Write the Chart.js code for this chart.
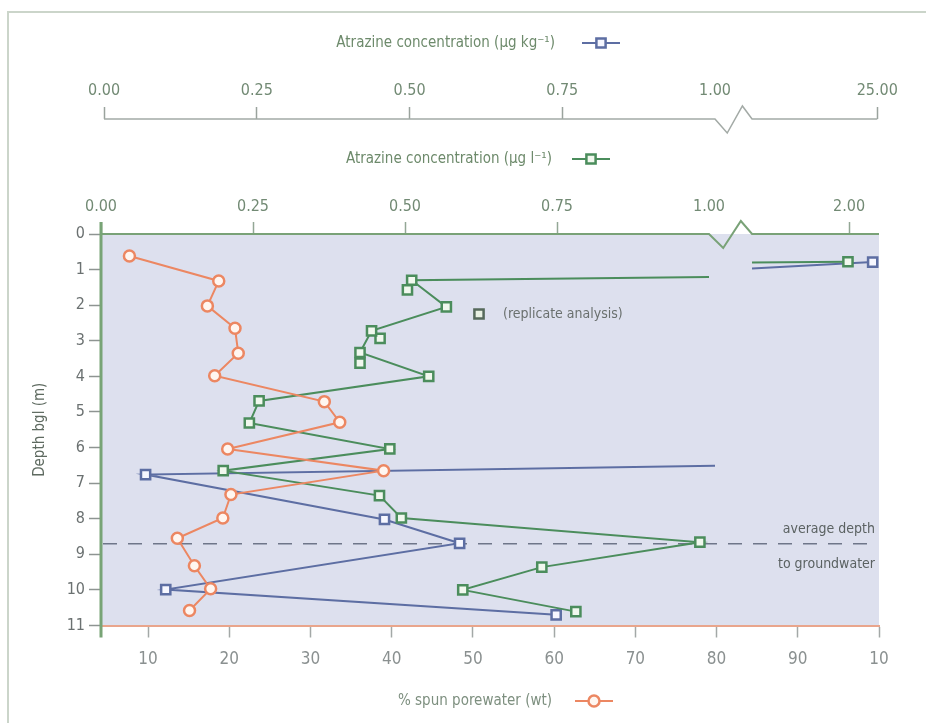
<!DOCTYPE html>
<html>
<head>
<meta charset="utf-8">
<style>
  html, body { margin: 0; padding: 0; background: #ffffff; }
  #wrap { width: 926px; height: 723px; }
</style>
<script src="https://cdn.jsdelivr.net/npm/chart.js@4.4.1/dist/chart.umd.min.js"></script>
</head>
<body>
<div id="wrap"><canvas id="c" width="926" height="723"></canvas></div>
<script>
// ---- borehole profile: depth below ground level (m) ----

// % spun porewater (wt)
const poreDepth = [0.62, 1.32, 2.02, 2.65, 3.35, 3.98, 4.71, 5.29, 6.04, 6.65, 7.32, 7.98, 8.55, 9.32, 9.97, 10.58];
const porePct   = [7.7, 18.7, 17.3, 20.7, 21.1, 18.2, 31.7, 33.6, 19.8, 39.0, 20.2, 19.2, 13.6, 15.7, 17.7, 15.1];

// atrazine in porewater (µg l-1)
const waterDepth = [0.78, 1.30, 2.05, 2.72, 3.33, 4.00, 4.69, 5.31, 6.04, 6.65, 7.35, 7.98, 8.66, 9.36, 10.00, 10.61];
const waterConc  = [1.99, 0.511, 0.568, 0.445, 0.426, 0.539, 0.260, 0.244, 0.475, 0.201, 0.458, 0.494, 0.985, 0.725, 0.595, 0.781];

// replicate porewater analyses (µg l-1)
const repDepth = [1.57, 2.93, 3.63];
const repConc  = [0.504, 0.459, 0.426];

// atrazine in soil (µg kg-1)
const soilDepth = [0.79, 6.76, 8.02, 8.69, 9.99, 10.70];
const soilConc  = [24.15, 0.068, 0.459, 0.582, 0.101, 0.740];

// depths at which a line leaves / re-enters the axis break
const waterBreakDepths = [0.80, 1.21];
const soilBreakDepths  = [0.97, 6.51];

// average depth to groundwater (m)
const groundwaterDepth = 8.70;

// tick values and labels
const depthTicks   = [0, 1, 2, 3, 4, 5, 6, 7, 8, 9, 10, 11];
const poreTicks    = [10, 20, 30, 40, 50, 60, 70, 80, 90, 100];
const poreLabels   = ['10', '20', '30', '40', '50', '60', '70', '80', '90', '10'];
const waterTicks   = [0, 0.25, 0.5, 0.75, 1, 2];
const waterLabels  = ['0.00', '0.25', '0.50', '0.75', '1.00', '2.00'];
const soilTicks    = [0, 0.25, 0.5, 0.75, 1, 25];
const soilLabels   = ['0.00', '0.25', '0.50', '0.75', '1.00', '25.00'];

const FONT = "'DejaVu Sans Condensed', 'Liberation Sans Narrow', 'Open Sans', sans-serif";

const C = {
  green: '#4b8d5c', greenFill: '#f1f8ee',
  blue: '#5d6ea3', blueFill: '#f6f7ff',
  orange: '#ec8762', orangeFill: '#fff6f0',
  plot: '#dde0ee', dash: '#6f7689',
  axisText: '#728a74', greyText: '#6b7171', title: '#6d8a6b'
};

// Linear scale with a gap: [min, at] and [resume, max] are drawn as two linear pieces
class BrokenLinearScale extends Chart.LinearScale {
  static id = 'brokenLinear';
  static defaults = {};
  _frac(v) {
    const b = this.options.brk;
    if (v <= b.at) return b.start + (v - this.min) / (b.at - this.min) * (b.from - b.start);
    if (v >= b.resume) return b.to + (v - b.resume) / (this.max - b.resume) * (1 - b.to);
    return b.from + (v - b.at) / (b.resume - b.at) * (b.to - b.from);
  }
  getPixelForValue(value) {
    if (value === null || value === undefined || isNaN(value)) return NaN;
    return this.getPixelForDecimal(this._frac(value));
  }
  getValueForPixel(pixel) {
    const b = this.options.brk;
    const f = this.getDecimalForPixel(pixel);
    if (f <= b.from) return this.min + (f - b.start) / (b.from - b.start) * (b.at - this.min);
    if (f >= b.to) return b.resume + (f - b.to) / (1 - b.to) * (this.max - b.resume);
    return b.at + (f - b.from) / (b.to - b.from) * (b.resume - b.at);
  }
}
Chart.register(BrokenLinearScale);

// Join samples; where two neighbours sit on either side of the break, stop at the
// break edges instead of crossing it.
function breakSeries(conc, depth, at, resume, edges) {
  const pts = [];
  for (let i = 0; i < conc.length; i++) {
    if (i > 0 && (conc[i - 1] > at) !== (conc[i] > at)) {
      pts.push({ x: conc[i - 1] > at ? resume : at, y: edges[0], edge: true });
      pts.push({ x: null, y: null });
      pts.push({ x: conc[i] > at ? resume : at, y: edges[1], edge: true });
    }
    pts.push({ x: conc[i], y: depth[i] });
  }
  return pts;
}

const WATER_BRK = { at: 1, resume: 1.1, start: 0, from: 0.7815, to: 0.8368 };
const SOIL_BRK  = { at: 1, resume: 2, start: 0.0039, from: 0.7892, to: 0.8368 };

const pick = (xs, ys) => xs.map((x, i) => ({ x, y: ys[i] }));
const markerRadius = r => c => (c.raw && c.raw.edge) ? 0 : r;

function tickFont(size) { return { family: FONT, size }; }

function sampleMarker(ctx, x, y, style, stroke, fill, radius) {
  ctx.save();
  ctx.strokeStyle = stroke; ctx.lineWidth = 2.2;
  ctx.beginPath(); ctx.moveTo(x - 19, y); ctx.lineTo(x + 19, y); ctx.stroke();
  ctx.fillStyle = fill; ctx.lineWidth = 2.5;
  Chart.helpers.drawPoint(ctx, { pointStyle: style, radius, borderWidth: 2.5, rotation: 0 }, x, y);
  ctx.restore();
}

function brokenAxisLine(ctx, scale, y, x0, x1, color, width) {
  const p1 = scale.getPixelForValue(scale.options.brk.at);
  const p2 = scale.getPixelForValue(scale.options.brk.resume);
  const w = p2 - p1;
  ctx.save();
  ctx.strokeStyle = color; ctx.lineWidth = width; ctx.lineJoin = 'miter';
  ctx.beginPath();
  ctx.moveTo(x0, y); ctx.lineTo(p1, y);
  ctx.lineTo(p1 + w * 0.33, y + 14);
  ctx.lineTo(p1 + w * 0.74, y - 13);
  ctx.lineTo(p2, y); ctx.lineTo(x1, y);
  ctx.stroke();
  ctx.restore();
}

const decor = {
  id: 'decor',
  beforeDraw(chart) {
    const { ctx, chartArea: a } = chart;
    ctx.save();
    ctx.fillStyle = '#ffffff';
    ctx.fillRect(0, 0, chart.width, chart.height);
    ctx.strokeStyle = '#cbd5ca'; ctx.lineWidth = 2;
    ctx.beginPath(); ctx.moveTo(8, chart.height); ctx.lineTo(8, 12); ctx.lineTo(chart.width, 12); ctx.stroke();
    ctx.fillStyle = C.plot;
    ctx.fillRect(a.left, a.top, a.right - a.left, a.bottom - a.top);
    ctx.restore();
  },
  beforeDatasetsDraw(chart) {
    const { ctx, chartArea: a, scales } = chart;
    const y = scales.y.getPixelForValue(groundwaterDepth);
    ctx.save();
    ctx.strokeStyle = C.dash; ctx.lineWidth = 1.5; ctx.setLineDash([14, 11]);
    ctx.beginPath(); ctx.moveTo(a.left + 2, y); ctx.lineTo(a.right - 10, y); ctx.stroke();
    ctx.restore();
  },
  afterDatasetsDraw(chart) {
    const { ctx, chartArea: a, scales } = chart;
    const xl = scales.xl, xk = scales.xk, ys = scales.y;

    // axis lines with break marks
    brokenAxisLine(ctx, xl, a.top, a.left, a.right, '#79a277', 2);
    brokenAxisLine(ctx, xk, xk.bottom, xk.getPixelForValue(0), xk.getPixelForValue(25), '#a3aaa6', 1.5);

    // depth axis line
    ctx.save();
    ctx.strokeStyle = '#78a476'; ctx.lineWidth = 3;
    ctx.beginPath(); ctx.moveTo(a.left, a.top - 12); ctx.lineTo(a.left, a.bottom + 12); ctx.stroke();
    ctx.restore();

    ctx.save();
    ctx.textBaseline = 'middle';

    // groundwater note
    const gy = ys.getPixelForValue(groundwaterDepth);
    ctx.font = `14px ${FONT}`; ctx.fillStyle = '#5b6262'; ctx.textAlign = 'right';
    ctx.fillText('average depth', a.right - 4, gy - 14);
    ctx.fillText('to groundwater', a.right - 4, gy + 21);

    // replicate key
    ctx.fillStyle = '#e9f1e3'; ctx.strokeStyle = '#56695b';
    ctx.lineWidth = 2.5;
    Chart.helpers.drawPoint(ctx, { pointStyle: 'rect', radius: 6.5, borderWidth: 2.5, rotation: 0 }, 479, 314);
    ctx.fillStyle = '#6a706e'; ctx.textAlign = 'left'; ctx.font = `14px ${FONT}`;
    ctx.fillText('(replicate analysis)', 503, 314);

    // series titles with their keys
    ctx.font = `15px ${FONT}`; ctx.fillStyle = C.title; ctx.textAlign = 'right';
    ctx.fillText('Atrazine concentration (µg kg⁻¹)', 555, 43);
    ctx.fillText('Atrazine concentration (µg l⁻¹)', 552, 159);
    ctx.fillStyle = '#7d8f7f';
    ctx.fillText('% spun porewater (wt)', 552, 701);
    ctx.restore();

    sampleMarker(ctx, 601, 43, 'rect', C.blue, C.blueFill, 6.5);
    sampleMarker(ctx, 591, 159, 'rect', C.green, C.greenFill, 6.5);
    sampleMarker(ctx, 594, 701, 'circle', C.orange, C.orangeFill, 5.5);
  }
};

const hiddenAtBreak = color => c => (c.tick && c.tick.value === 1) ? 'rgba(0,0,0,0)' : color;

new Chart(document.getElementById('c'), {
  type: 'line',
  data: {
    datasets: [
      {
        label: '% spun porewater (wt)',
        data: pick(porePct, poreDepth),
        xAxisID: 'xp', yAxisID: 'y',
        borderColor: C.orange, borderWidth: 2,
        pointStyle: 'circle', pointRadius: 5.5, pointBorderWidth: 2.5,
        pointBorderColor: C.orange, pointBackgroundColor: C.orangeFill
      },
      {
        label: 'Atrazine concentration (µg l-1)',
        data: breakSeries(waterConc, waterDepth, WATER_BRK.at, WATER_BRK.resume, waterBreakDepths),
        xAxisID: 'xl', yAxisID: 'y',
        borderColor: C.green, borderWidth: 2, spanGaps: false,
        pointStyle: 'rect', pointRadius: markerRadius(6.5), pointBorderWidth: 2.5,
        pointBorderColor: C.green, pointBackgroundColor: C.greenFill
      },
      {
        label: 'replicate analysis',
        data: pick(repConc, repDepth),
        xAxisID: 'xl', yAxisID: 'y',
        showLine: false,
        pointStyle: 'rect', pointRadius: 6.5, pointBorderWidth: 2.5,
        pointBorderColor: C.green, pointBackgroundColor: C.greenFill
      },
      {
        label: 'Atrazine concentration (µg kg-1)',
        data: breakSeries(soilConc, soilDepth, SOIL_BRK.at, SOIL_BRK.resume, soilBreakDepths),
        xAxisID: 'xk', yAxisID: 'y',
        borderColor: C.blue, borderWidth: 2, spanGaps: false,
        pointStyle: 'rect', pointRadius: markerRadius(6.5), pointBorderWidth: 2.5,
        pointBorderColor: C.blue, pointBackgroundColor: C.blueFill
      }
    ]
  },
  options: {
    responsive: false,
    animation: false,
    events: [],
    layout: { padding: { top: 20, left: 20, right: 47, bottom: 0 } },
    plugins: { legend: { display: false }, tooltip: { enabled: false } },
    elements: { line: { tension: 0 } },
    scales: {
      y: {
        type: 'linear', position: 'left', reverse: true, min: 0, max: 11,
        afterBuildTicks: s => { s.ticks = depthTicks.map(v => ({ value: v })); },
        afterFit: s => { s.width = 81; },
        ticks: { font: tickFont(16), color: C.greyText, padding: 4, callback: v => String(v) },
        grid: { drawOnChartArea: false, tickLength: 12, color: '#8e9492', tickWidth: 1.5 },
        border: { display: false },
        title: { display: true, text: 'Depth bgl (m)', font: { family: FONT, size: 15 }, color: '#5e6a60', padding: { top: 11, bottom: 0 } }
      },
      xp: {
        type: 'linear', position: 'bottom', min: 4.2, max: 100,
        afterBuildTicks: s => { s.ticks = poreTicks.map(v => ({ value: v })); },
        afterFit: s => { s.height = 97.5; },
        ticks: { font: tickFont(17), color: '#8a9090', padding: 12, maxRotation: 0, autoSkip: false,
                 callback: (v, i) => poreLabels[i] },
        grid: { drawOnChartArea: false, tickLength: 12, color: '#a3a8a7', tickWidth: 1.5 },
        border: { display: true, color: '#e9a58c', width: 2 }
      },
      xl: {
        type: 'brokenLinear', position: 'top', weight: 0, min: 0, max: 2.278, brk: WATER_BRK,
        afterBuildTicks: s => { s.ticks = waterTicks.map(v => ({ value: v })); },
        afterFit: s => { s.height = 115; },
        ticks: { font: tickFont(16), color: C.axisText, padding: 6, maxRotation: 0, autoSkip: false,
                 callback: (v, i) => waterLabels[i] },
        grid: { drawOnChartArea: false, tickLength: 12, tickWidth: 1.5, color: '#93a795',
                tickColor: hiddenAtBreak('#93a795') },
        border: { display: false }
      },
      xk: {
        type: 'brokenLinear', position: 'top', weight: 1, min: 0, max: 25.31, brk: SOIL_BRK,
        afterBuildTicks: s => { s.ticks = soilTicks.map(v => ({ value: v })); },
        afterFit: s => { s.height = 99; },
        ticks: { font: tickFont(16), color: C.axisText, padding: 7, maxRotation: 0, autoSkip: false,
                 callback: (v, i) => soilLabels[i] },
        grid: { drawOnChartArea: false, tickLength: 12, tickWidth: 1.5, color: '#9aa39d',
                tickColor: hiddenAtBreak('#9aa39d') },
        border: { display: false }
      }
    }
  },
  plugins: [decor]
});
</script>
</body>
</html>
